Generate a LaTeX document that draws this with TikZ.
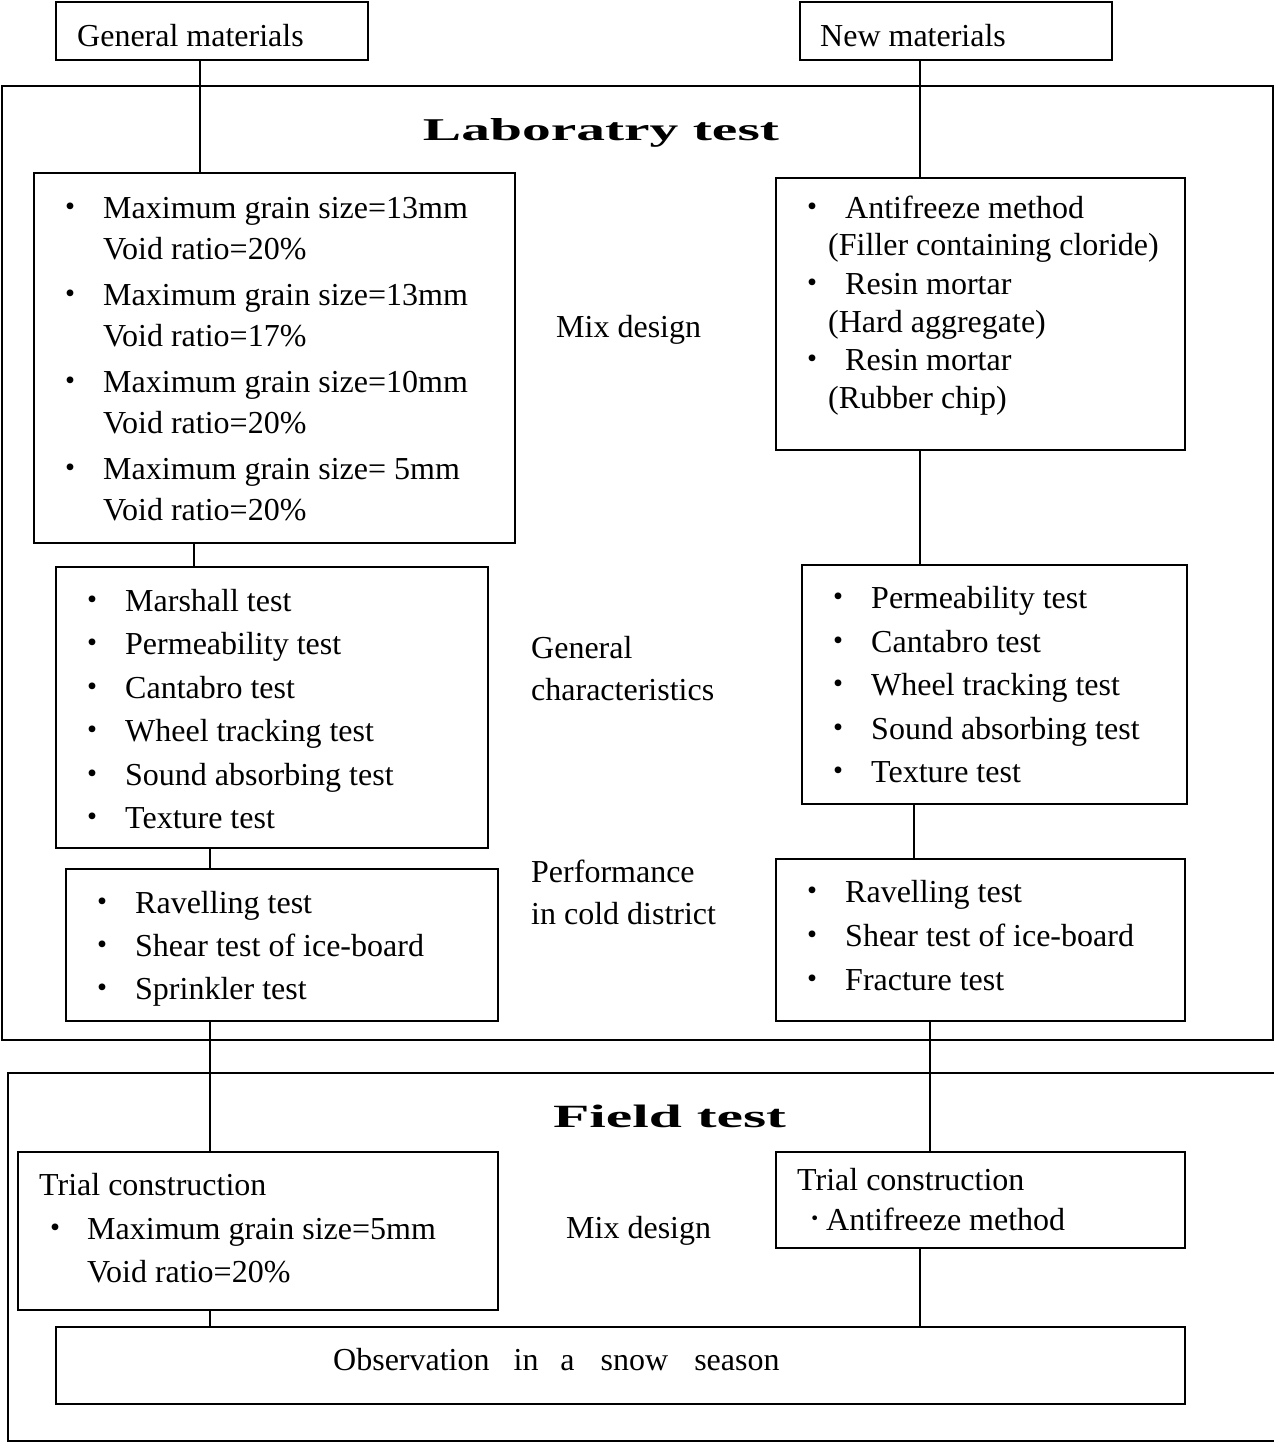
\documentclass[tikz,border=0pt]{standalone}
\usepackage{fontspec}
\usepackage{graphicx}
\setmainfont{Liberation Serif}
\newfontfamily\cjk{Noto Sans CJK JP}
\usetikzlibrary{fit}
\begin{document}
\begin{tikzpicture}[x=1pt,y=-1pt,
 box/.style={draw, line width=2pt, inner sep=0pt},
 frame/.style={draw, line width=1.6pt, inner sep=0pt},
 txt/.style={anchor=base west, inner sep=0pt, font=\fontsize{32}{38}\selectfont},
 bul/.style={anchor=base, inner sep=0pt, font=\fontsize{32}{38}\selectfont\cjk},
 conn/.style={line width=2pt}]
\useasboundingbox (0,0) rectangle (1274,1443);
\fill[white] (0,0) rectangle (1274,1443);

% frames
\node[frame, fit={(2,86) (1273,1040)}] (LAB) {};
\node[frame, fit={(8,1073) (1280,1441)}] (FIELD) {};
\node[anchor=base, inner sep=0pt] (labt) at (601,140) {\fontsize{32}{38}\selectfont\bfseries\resizebox{356pt}{22pt}{Laboratry test}};
\node[anchor=base, inner sep=0pt] (fieldt) at (669.5,1127) {\fontsize{32}{38}\selectfont\bfseries\resizebox{233pt}{22.5pt}{Field test}};

% boxes
\node[box, fit={(56,2) (368,60)}] (GM) {};
\node[box, fit={(800,2) (1112,60)}] (NM) {};
\node[box, fit={(34,173) (515,543)}] (L1) {};
\node[box, fit={(56,567) (488,848)}] (L2) {};
\node[box, fit={(66,869) (498,1021)}] (L3) {};
\node[box, fit={(776,178) (1185,450)}] (R1) {};
\node[box, fit={(802,565) (1187,804)}] (R2) {};
\node[box, fit={(776,859) (1185,1021)}] (R3) {};
\node[box, fit={(18,1152) (498,1310)}] (FL) {};
\node[box, fit={(776,1152) (1185,1248)}] (FR) {};
\node[box, fit={(56,1327) (1185,1404)}] (OBS) {};

% connectors
\draw[conn] (GM.south -| 200,0) -- (L1.north -| 200,0);
\draw[conn] (NM.south -| 920,0) -- (R1.north -| 920,0);
\draw[conn] (L1.south -| 194,0) -- (L2.north -| 194,0);
\draw[conn] (L2.south -| 210,0) -- (L3.north -| 210,0);
\draw[conn] (L3.south -| 210,0) -- (FL.north -| 210,0);
\draw[conn] (FL.south -| 210,0) -- (OBS.north -| 210,0);
\draw[conn] (R1.south -| 920,0) -- (R2.north -| 920,0);
\draw[conn] (R2.south -| 914,0) -- (R3.north -| 914,0);
\draw[conn] (R3.south -| 930,0) -- (FR.north -| 930,0);
\draw[conn] (FR.south -| 920,0) -- (OBS.north -| 920,0);

% top texts
\node[txt] (gmt) at (77,46) {General materials};
\node[txt] (nmt) at (820,46) {New materials};

% L1
\node[bul] (l1b1) at (70,218) {・};
\node[txt] (l1a) at (103,218) {Maximum grain size=13mm};
\node[txt] (l1b) at (103,259) {Void ratio=20\%};
\node[bul] (l1b2) at (70,305) {・};
\node[txt] (l1c) at (103,305) {Maximum grain size=13mm};
\node[txt] (l1d) at (103,346) {Void ratio=17\%};
\node[bul] (l1b3) at (70,392) {・};
\node[txt] (l1e) at (103,392) {Maximum grain size=10mm};
\node[txt] (l1f) at (103,433) {Void ratio=20\%};
\node[bul] (l1b4) at (70,479) {・};
\node[txt] (l1g) at (103,479) {Maximum grain size= 5mm};
\node[txt] (l1h) at (103,520) {Void ratio=20\%};

% L2
\node[bul] (l2b1) at (92,611) {・};
\node[txt] (l2a) at (125,611) {Marshall test};
\node[bul] (l2b2) at (92,654) {・};
\node[txt] (l2b) at (125,654) {Permeability test};
\node[bul] (l2b3) at (92,698) {・};
\node[txt] (l2c) at (125,698) {Cantabro test};
\node[bul] (l2b4) at (92,741) {・};
\node[txt] (l2d) at (125,741) {Wheel tracking test};
\node[bul] (l2b5) at (92,785) {・};
\node[txt] (l2e) at (125,785) {Sound absorbing test};
\node[bul] (l2b6) at (92,828) {・};
\node[txt] (l2f) at (125,828) {Texture test};

% L3
\node[bul] (l3b1) at (102,913) {・};
\node[txt] (l3a) at (135,913) {Ravelling test};
\node[bul] (l3b2) at (102,956) {・};
\node[txt] (l3b) at (135,956) {Shear test of ice-board};
\node[bul] (l3b3) at (102,999) {・};
\node[txt] (l3c) at (135,999) {Sprinkler test};

% R1
\node[bul] (r1b1) at (812,218) {・};
\node[txt] (r1a) at (845,218) {Antifreeze method};
\node[txt] (r1b) at (828,255) {(Filler containing cloride)};
\node[bul] (r1b2) at (812,294) {・};
\node[txt] (r1c) at (845,294) {Resin mortar};
\node[txt] (r1d) at (828,332) {(Hard aggregate)};
\node[bul] (r1b3) at (812,370) {・};
\node[txt] (r1e) at (845,370) {Resin mortar};
\node[txt] (r1f) at (828,408) {(Rubber chip)};

% R2
\node[bul] (r2b1) at (838,608) {・};
\node[txt] (r2a) at (871,608) {Permeability test};
\node[bul] (r2b2) at (838,652) {・};
\node[txt] (r2b) at (871,652) {Cantabro test};
\node[bul] (r2b3) at (838,695) {・};
\node[txt] (r2c) at (871,695) {Wheel tracking test};
\node[bul] (r2b4) at (838,739) {・};
\node[txt] (r2d) at (871,739) {Sound absorbing test};
\node[bul] (r2b5) at (838,782) {・};
\node[txt] (r2e) at (871,782) {Texture test};

% R3
\node[bul] (r3b1) at (812,902) {・};
\node[txt] (r3a) at (845,902) {Ravelling test};
\node[bul] (r3b2) at (812,946) {・};
\node[txt] (r3b) at (845,946) {Shear test of ice-board};
\node[bul] (r3b3) at (812,990) {・};
\node[txt] (r3c) at (845,990) {Fracture test};

% middle labels
\node[txt] (mix1) at (556,337) {Mix design};
\node[txt] (gen1) at (531,658) {General};
\node[txt] (gen2) at (531,700) {characteristics};
\node[txt] (perf1) at (531,882) {Performance};
\node[txt] (perf2) at (531,924) {in cold district};
\node[txt] (mix2) at (566,1238) {Mix design};

% field boxes
\node[txt] (flt) at (39,1195) {Trial construction};
\node[bul] (flb) at (55,1239) {・};
\node[txt] (fla) at (87,1239) {Maximum grain size=5mm};
\node[txt] (flc) at (87,1282) {Void ratio=20\%};
\node[txt] (frt) at (797,1190) {Trial construction};
\node[anchor=base, inner sep=0pt, font=\fontsize{40}{40}\selectfont] (frb) at (815,1231) {·};
\node[txt] (fra) at (826,1230) {Antifreeze method};

\node[txt] (obst) at (333,1370) {Observation\hspace{24pt}in\hspace{22pt}a\hspace{26pt}snow\hspace{26pt}season};
\end{tikzpicture}
\end{document}
